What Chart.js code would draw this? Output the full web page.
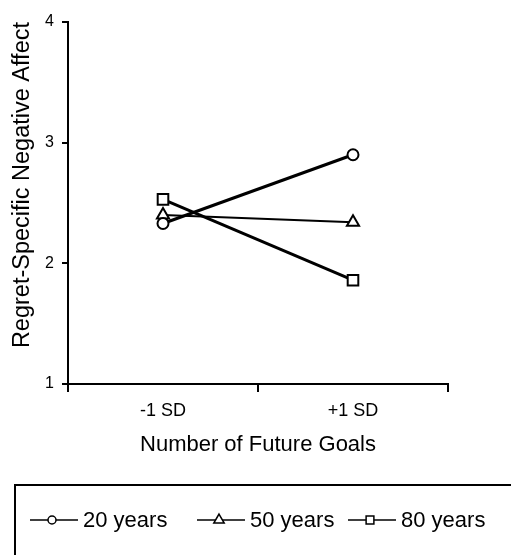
<!DOCTYPE html>
<html>
<head>
<meta charset="utf-8">
<script src="https://cdn.jsdelivr.net/npm/chart.js@4/dist/chart.umd.min.js"></script>
<style>
  html, body { margin: 0; padding: 0; background: #fff; }
  canvas { display: block; }
</style>
</head>
<body>
<canvas id="grafico" width="511" height="555"></canvas>
<script>
/* ---- datos ---- */
const categorias = ['-1 SD', '+1 SD'];
const series     = ['20 years', '50 years', '80 years'];
const valores20  = [2.33, 2.90];
const valores50  = [2.40, 2.34];
const valores80  = [2.53, 1.86];
const ticksY     = [1, 2, 3, 4];

const FUENTE = "'Liberation Sans', Arial, sans-serif";

/* ---- leyenda dibujada en el canvas (linea + marcador + texto) ---- */
const leyendaCaja = {
  id: 'leyendaCaja',
  afterDraw(chart) {
    const ctx = chart.ctx;
    ctx.save();
    ctx.strokeStyle = '#000';
    ctx.lineWidth = 2;
    ctx.strokeRect(15, 485, 620, 200);

    const xs = [30, 197, 348];
    const y = 520;
    const tam = [4, 6, 5.5];
    chart.data.datasets.forEach((ds, i) => {
      const x0 = xs[i];
      ctx.strokeStyle = '#000';
      ctx.lineWidth = 1.5;
      ctx.beginPath();
      ctx.moveTo(x0, y);
      ctx.lineTo(x0 + 48, y);
      ctx.stroke();
      ctx.fillStyle = '#fff';
      Chart.helpers.drawPoint(ctx, { pointStyle: ds.pointStyle, radius: tam[i], borderWidth: 2 }, x0 + 22, y);
      ctx.fillStyle = '#000';
      ctx.font = '22px ' + FUENTE;
      ctx.textBaseline = 'middle';
      ctx.textAlign = 'left';
      ctx.fillText(ds.label, x0 + 53, y + 1);
    });
    ctx.restore();
  }
};

const estiloSerie = (label, data, forma, radio, grosor) => ({
  label,
  data,
  borderColor: '#000',
  borderWidth: grosor,
  pointStyle: forma,
  pointRadius: radio,
  pointBorderWidth: 2,
  pointBorderColor: '#000',
  pointBackgroundColor: '#fff',
  tension: 0,
  fill: false,
});

new Chart(document.getElementById('grafico').getContext('2d'), {
  type: 'line',
  data: {
    labels: categorias,
    datasets: [
      estiloSerie(series[0], valores20, 'circle', 5.5, 3),
      estiloSerie(series[1], valores50, 'triangle', 7, 2),
      estiloSerie(series[2], valores80, 'rect', 7.5, 3),
    ],
  },
  options: {
    responsive: false,
    animation: false,
    layout: { padding: { left: 0, right: 63, top: 22, bottom: 86 } },
    plugins: {
      legend: { display: false },
      tooltip: { enabled: false },
    },
    scales: {
      x: {
        type: 'category',
        offset: true,
        border: { display: true, color: '#000', width: 2 },
        grid: { offset: true, drawOnChartArea: false, drawTicks: true, tickLength: 8, color: '#000', lineWidth: 2 },
        ticks: { color: '#000', font: { family: FUENTE, size: 18 }, padding: 8, maxRotation: 0 },
        title: {
          display: true,
          text: 'Number of Future Goals',
          color: '#000',
          font: { family: FUENTE, size: 22 },
          padding: { top: 0, bottom: 11 },
        },
        afterFit(scale) { scale.height = 85; },
      },
      y: {
        min: 1,
        max: 4,
        afterBuildTicks(scale) { scale.ticks = ticksY.map(v => ({ value: v })); },
        border: { display: true, color: '#000', width: 2 },
        grid: { drawOnChartArea: false, drawTicks: true, tickLength: 6, color: '#000', lineWidth: 2 },
        ticks: { color: '#000', font: { family: FUENTE, size: 16 }, padding: 8 },
        title: {
          display: true,
          text: 'Regret-Specific Negative Affect',
          align: 'end',
          color: '#000',
          font: { family: FUENTE, size: 23.5 },
          padding: { top: 8, bottom: 0 },
        },
        afterFit(scale) { scale.width = 68; },
      },
    },
  },
  plugins: [leyendaCaja],
});
</script>
</body>
</html>
